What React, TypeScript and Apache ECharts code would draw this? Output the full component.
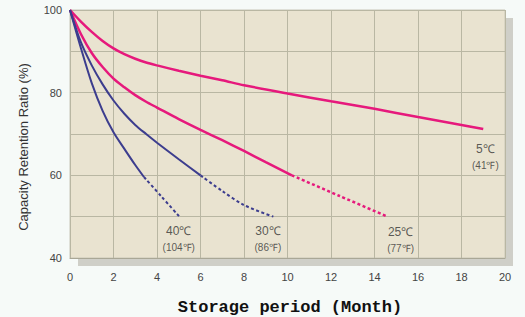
import React, { useEffect, useRef } from "react";
import * as echarts from "echarts";

const xTicks = [0, 2, 4, 6, 8, 10, 12, 14, 16, 18, 20];
const yTickLabels = [40, 60, 80, 100];

const c5Solid: [number, number][] = [
  [0, 100], [0.5, 97.2], [1, 94.7], [1.5, 92.5], [2, 90.7], [2.5, 89.3], [3, 88.2], [3.5, 87.3], [4, 86.6],
  [5, 85.3], [6, 84.1], [7, 83.0], [8, 81.8], [10, 79.8], [12, 77.9], [14, 76.1],
  [16, 74.1], [18, 72.2], [19, 71.2],
];
const c25Solid: [number, number][] = [
  [0, 100], [0.5, 94.2], [1, 89.6], [1.5, 86.2], [2, 83.4], [2.5, 81.3], [3, 79.4], [3.5, 77.8], [4, 76.4],
  [5, 73.6], [6, 71.0], [7, 68.5], [8, 65.9], [9, 63.2], [10.2, 60],
];
const c25Dash: [number, number][] = [[10.2, 60], [12.4, 55], [14.6, 50]];
const c30Solid: [number, number][] = [
  [0, 100], [0.5, 92.2], [1, 86.6], [1.5, 82.0], [2, 78.1], [2.5, 74.9], [3, 72.2],
  [3.5, 70.0], [4, 67.9], [5, 63.9], [6, 60],
];
const c30Dash: [number, number][] = [[6, 60], [7, 56.2], [8, 52.8], [9.35, 50]];
const c40Solid: [number, number][] = [
  [0, 100], [0.5, 90.8], [1, 82.3], [1.5, 75.6], [2, 70.4],
  [2.5, 66.4], [3, 62.5], [3.4, 59.6],
];
const c40Dash: [number, number][] = [[3.4, 59.6], [4.2, 54.9], [5.03, 50]];

const tempLabels = [
  { c: "40℃", f: "(104℉)", at: [5.0, 44.6] },
  { c: "30℃", f: "(86℉)", at: [9.1, 44.6] },
  { c: "25℃", f: "(77℉)", at: [15.2, 44.4] },
  { c: "5℃", f: "(41℉)", at: [19.1, 64.5] },
];

const PINK = "#e6197c";
const NAVY = "#3c3d8e";

export default function App() {
  const ref = useRef<HTMLDivElement>(null);
  useEffect(() => {
    if (!ref.current) return;
    const chart = echarts.init(ref.current, null, { renderer: "svg" });
    const line = (data: [number, number][], color: string, width: number, dashed: boolean) => ({
      type: "line",
      data,
      smooth: 0.3,
      showSymbol: false,
      symbol: "none",
      lineStyle: { color, width, type: dashed ? [3, 2.5] : "solid", cap: "butt" },
      z: 5,
    });
    chart.setOption({
      animation: false,
      backgroundColor: "transparent",
      grid: {
        left: 70,
        top: 10,
        right: 20,
        bottom: 59,
        show: true,
        backgroundColor: "#e9e3d0",
        borderColor: "#c9c7b8",
        borderWidth: 1,
      },
      xAxis: {
        type: "value",
        min: 0,
        max: 20,
        interval: 2,
        axisLine: { show: true, lineStyle: { color: "#a9a796", width: 1 } },
        axisTick: { show: false },
        axisLabel: {
          color: "#444",
          fontFamily: "Liberation Sans, Arial",
          fontSize: 11,
          margin: 13,
          formatter: (v: number) => (xTicks.includes(v) ? String(v) : ""),
        },
        splitLine: { show: true, lineStyle: { color: "#b9b7a3", width: 1 } },
      },
      yAxis: {
        type: "value",
        min: 40,
        max: 100,
        interval: 10,
        axisLine: { show: false },
        axisTick: { show: false },
        axisLabel: {
          color: "#444",
          fontFamily: "Liberation Sans, Arial",
          fontSize: 11,
          margin: 8,
          formatter: (v: number) => (yTickLabels.includes(v) ? String(v) : ""),
        },
        splitLine: { show: true, lineStyle: { color: "#b9b7a3", width: 1 } },
        name: "Capacity Retention Ratio (%)",
        nameLocation: "middle",
        nameGap: 40,
        nameTextStyle: {
          color: "#333",
          fontFamily: "Liberation Sans, Arial",
          fontSize: 13,
          padding: [0, 26, 0, 0],
        },
      },
      title: {
        text: "Storage period (Month)",
        left: 285,
        textAlign: "center",
        top: 294,
        textStyle: {
          fontFamily: "Liberation Mono, DejaVu Sans Mono, monospace",
          fontWeight: "bold",
          fontSize: 17,
          color: "#111",
        },
      },
      series: [
        line(c5Solid, PINK, 2.5, false),
        line(c25Solid, PINK, 2.5, false),
        line(c25Dash, PINK, 2.5, true),
        line(c30Solid, NAVY, 2, false),
        line(c30Dash, NAVY, 2, true),
        line(c40Solid, NAVY, 2, false),
        line(c40Dash, NAVY, 2, true),
        {
          type: "scatter",
          symbolSize: 0,
          silent: true,
          data: tempLabels.map((t) => ({ value: t.at, c: t.c, f: t.f })),
          label: {
            show: true,
            position: "inside",
            align: "center",
            formatter: (p: any) => `{a|${p.data.c}}\n{b|${p.data.f}}`,
            rich: {
              a: { fontSize: 12, color: "#333", fontFamily: "Liberation Sans, Arial", lineHeight: 17 },
              b: { fontSize: 10, color: "#333", fontFamily: "Liberation Sans, Arial", lineHeight: 15 },
            },
          },
          z: 6,
        },
      ],
    });
    return () => chart.dispose();
  }, []);
  return (
    <div
      style={{
        position: "fixed",
        left: 0,
        top: 0,
        width: 525,
        height: 317,
        background: "#f6faf8",
      }}
    >
      <div
        style={{
          position: "absolute",
          left: 78,
          top: 18,
          width: 435,
          height: 248,
          background: "#cfcfc8",
        }}
      />
      <div
        ref={ref}
        style={{ position: "absolute", left: 0, top: 0, width: 525, height: 317 }}
      />
    </div>
  );
}
